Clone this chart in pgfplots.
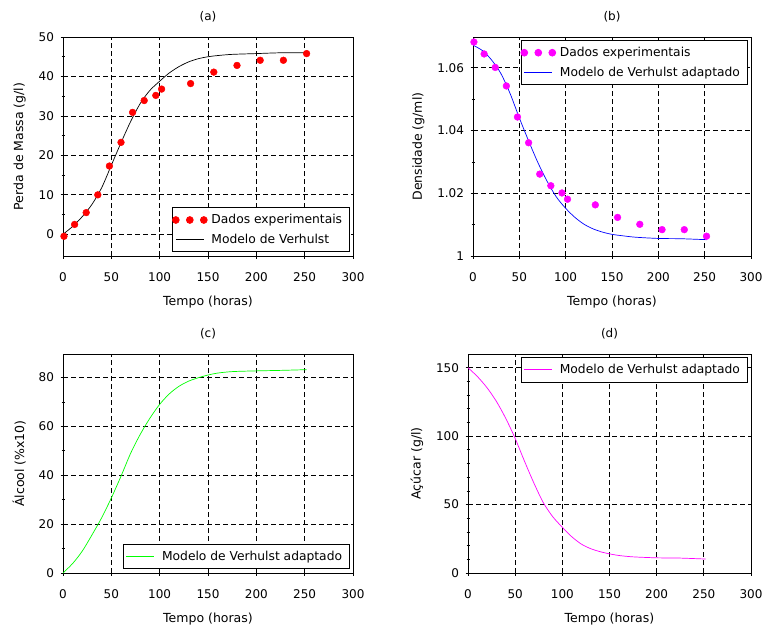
\documentclass[border=0pt]{standalone}
\usepackage{pgfplots}
\pgfplotsset{compat=1.18}
\usepackage{fontspec}
\setmainfont{DejaVu Sans}
\setsansfont{DejaVu Sans}

\definecolor{sciRed}{RGB}{255,0,0}
\definecolor{sciMag}{RGB}{255,0,255}
\definecolor{sciBlue}{RGB}{0,0,255}
\definecolor{sciGreen}{RGB}{0,255,0}

\pgfplotsset{
  sci/.style={
    scale only axis,
    anchor=north west,
    xmin=0, xmax=300,
    xtick={0,50,...,300},
    tick align=center,
    tick pos=left,
    major tick length=5pt,
    minor tick length=3pt,
    every tick/.style={black, line width=0.7pt},
    axis line style={line width=0.8pt},
    grid=major,
    major grid style={black, line width=0.7pt, dash pattern=on 5pt off 3pt},
    /pgf/number format/assume math mode=true,
    tick label style={font=\fontsize{12}{14}\selectfont},
    label style={font=\fontsize{12.5}{14}\selectfont},
    title style={font=\fontsize{12}{14}\selectfont, yshift=5pt},
    xticklabel style={yshift=-10.5pt},
    yticklabel style={xshift=-3pt},
    xlabel style={yshift=-8pt},
    ylabel style={yshift=6pt},
    legend style={draw=black, fill=white, line width=0.8pt,
      font=\fontsize{12.3}{14}\selectfont,
      inner xsep=7.6pt, inner ysep=2.5pt, row sep=0pt, column sep=7.6pt,
      nodes={inner xsep=0pt, inner ysep=4.3pt}},
    legend cell align=left,
    legend image code/.code={
      \draw[overlay,#1] (-4.6pt,0pt) -- (23.4pt,0pt);
      \path[draw=none] (0pt,0pt) -- (23.4pt,0pt);},
    xlabel={Tempo (horas)},
  },
  dots/.style={
    only marks, mark=*, mark size=3.4pt,
    legend image code/.code={
      \path[overlay,#1,draw=none,mark repeat=1,mark phase=1]
        plot coordinates {(-4.6pt,0pt) (9.4pt,0pt) (23.4pt,0pt)};
      \path[draw=none] (0pt,0pt) -- (23.4pt,0pt);},
  },
}

\begin{document}
\begin{tikzpicture}[x=1pt,y=1pt]
\useasboundingbox (0,0) rectangle (763,-625);

% (a) perda de massa
\begin{axis}[sci, at={(63pt,-37pt)}, width=290pt, height=219pt,
  title={(a)}, ylabel={Perda de Massa (g/l)},
  ymin=-5.5, ymax=50, ytick={0,10,...,50}, minor y tick num=1,
  legend style={at={(0.99,0.018)}, anchor=south east}]
\addplot[dots, sciRed, mark options={draw=sciRed, fill=sciRed}] coordinates {
  (1,-0.5) (12,2.5) (24,5.5) (36,10.0) (48,17.3) (60,23.3) (72,30.9)
  (84,33.9) (96,35.2) (102,36.8) (132,38.2) (156,41.1) (180,42.8)
  (204,44.1) (228,44.1) (252,45.8)
};
\addlegendentry{Dados experimentais}
\addplot[black, line width=0.7pt, smooth] coordinates {
  (0,0) (10,2.0) (20,4.5) (30,7.6) (40,11.8) (50,17.5) (60,23.2) (70,28.6)
  (80,33.2) (90,36.5) (100,38.8) (110,40.9) (120,42.5) (130,43.7)
  (140,44.5) (150,45.0) (160,45.3) (175,45.6) (200,45.8) (225,46.0) (252,46.0)
};
\addlegendentry{Modelo de Verhulst}
\end{axis}

% (b) densidade
\begin{axis}[sci, at={(473pt,-37pt)}, width=278pt, height=219pt,
  title={(b)}, ylabel={Densidade (g/ml)},
  ymin=1.0, ymax=1.0698,
  ytick={1,1.02,1.04,1.06}, yticklabels={1,1.02,1.04,1.06},
  minor y tick num=1,
  legend style={at={(0.989,0.986)}, anchor=north east}]
\addplot[dots, sciMag, mark options={draw=sciMag, fill=sciMag}] coordinates {
  (1,1.0682) (12,1.0644) (24,1.0601) (36,1.0542) (48,1.0443) (60,1.0361)
  (72,1.0261) (84,1.0224) (96,1.0201) (102,1.0181) (132,1.0163)
  (156,1.0123) (180,1.0101) (204,1.0084) (228,1.0084) (252,1.0063)
};
\addlegendentry{Dados experimentais}
\addplot[sciBlue, line width=0.7pt, smooth] coordinates {
  (0,1.0672) (10,1.0655) (20,1.0625) (30,1.0582) (40,1.0518) (50,1.0440)
  (60,1.0367) (70,1.0298) (80,1.0238) (90,1.0188) (100,1.0152) (110,1.0123)
  (120,1.0101) (130,1.0086) (140,1.0076) (150,1.0069) (160,1.0065)
  (175,1.0060) (200,1.0056) (225,1.0055) (252,1.0052)
};
\addlegendentry{Modelo de Verhulst adaptado}
\end{axis}

% (c) alcool
\begin{axis}[sci, at={(63pt,-354pt)}, width=290pt, height=219pt,
  title={(c)}, ylabel={Álcool (\%x10)},
  ymin=0, ymax=89.6, ytick={0,20,...,80}, minor y tick num=1,
  legend style={at={(0.99,0.018)}, anchor=south east}]
\addplot[sciGreen, line width=0.7pt, smooth] coordinates {
  (0,0) (10,3.9) (20,9.0) (30,15.6) (40,22.6) (50,30.7) (60,39.6) (70,49.0)
  (80,56.8) (90,63.4) (100,69.0) (110,73.3) (120,76.4) (130,78.5)
  (140,79.9) (150,81.0) (160,81.8) (175,82.4) (200,82.7) (225,82.9) (252,83.2)
};
\addlegendentry{Modelo de Verhulst adaptado}
\end{axis}

% (d) acucar
\begin{axis}[sci, at={(468pt,-354pt)}, width=283pt, height=219pt,
  title={(d)}, ylabel={Açúcar (g/l)},
  ymin=0, ymax=160, ytick={0,50,100,150}, minor y tick num=4,
  legend style={at={(0.989,0.986)}, anchor=north east}]
\addplot[sciMag, line width=0.7pt, smooth] coordinates {
  (0,150) (10,143.5) (20,135.5) (30,125.5) (40,113) (50,98.3) (60,81.5)
  (70,65.5) (80,51.2) (90,41) (100,33.4) (110,26.5) (120,21.2) (130,17.8)
  (140,15.6) (150,14) (160,12.8) (175,11.8) (200,11.1) (225,10.9) (252,10.2)
};
\addlegendentry{Modelo de Verhulst adaptado}
\end{axis}
\end{tikzpicture}
\end{document}
